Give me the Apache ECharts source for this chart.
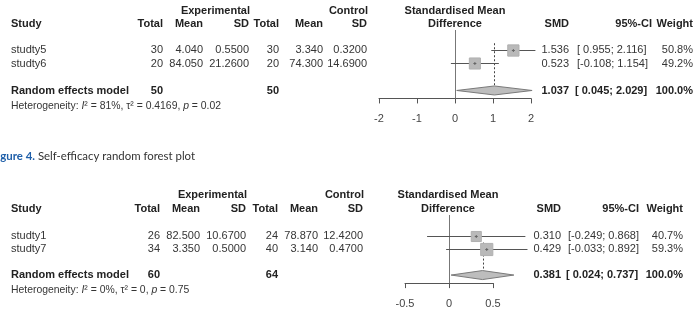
<!DOCTYPE html>
<html><head><meta charset="utf-8">
<script src="https://cdn.jsdelivr.net/npm/echarts@6/dist/echarts.min.js"></script>
<style>html,body{margin:0;padding:0;background:#fff;overflow:hidden}#c{width:695px;height:317px}</style>
</head><body><div id="c"></div>
<script>
// ---------- Data: top forest plot ----------
const studies1 = ['studty5', 'studty6'];
const expTotal1 = [30, 20];
const expMean1 = [4.040, 84.050];
const expSD1 = [0.5500, 21.2600];
const ctrlTotal1 = [30, 20];
const ctrlMean1 = [3.340, 74.300];
const ctrlSD1 = [0.3200, 14.6900];
const smd1 = [1.536, 0.523];
const ciLow1 = [0.955, -0.108];
const ciHigh1 = [2.116, 1.154];
const weight1 = [50.8, 49.2];
const pooled1 = [1.037, 0.045, 2.029];      // SMD, lower, upper
const pooledTotals1 = [50, 50];
const het1 = ['81%', '0.4169', '0.02'];     // I^2, tau^2, p
const ticks1 = [-2, -1, 0, 1, 2];

// ---------- Data: bottom forest plot ----------
const studies2 = ['studty1', 'studty7'];
const expTotal2 = [26, 34];
const expMean2 = [82.500, 3.350];
const expSD2 = [10.6700, 0.5000];
const ctrlTotal2 = [24, 40];
const ctrlMean2 = [78.870, 3.140];
const ctrlSD2 = [12.4200, 0.4700];
const smd2 = [0.310, 0.429];
const ciLow2 = [-0.249, -0.033];
const ciHigh2 = [0.868, 0.892];
const weight2 = [40.7, 59.3];
const pooled2 = [0.381, 0.024, 0.737];
const pooledTotals2 = [60, 64];
const het2 = ['0%', '0', '0.75'];
const ticks2 = [-0.5, 0, 0.5];

const captionLabel = 'Figure 4.';
const captionText = 'Self-efficacy random forest plot';
const headers = ['Study', 'Experimental', 'Control', 'Total', 'Mean', 'SD', 'Standardised Mean', 'Difference', 'SMD', '95%-CI', 'Weight'];
const summaryLabel = 'Random effects model';

// ---------- Layout ----------
const FONT = '"Liberation Sans", Arial, sans-serif';
const L1 = { gridLeft: 379, gridWidth: 152, gridTop: 30, rowH: 13.5, yMin: -0.48, yMax: 4.59, head1: 11, head2: 24, dotStart: 0.5,
  c: { study: 11, eTot: 163, eMean: 203, eSD: 249, cTot: 279, cMean: 323, cSD: 367, plotC: 455, smd: 569, ciL: 577, ciR: 652, w: 693 } };
const L2 = { gridLeft: 405, gridWidth: 88, gridTop: 215, rowH: 13, yMin: -0.62, yMax: 4.62, head1: 195, head2: 209, dotStart: 1.5,
  c: { study: 11, eTot: 160, eMean: 200, eSD: 246, cTot: 278, cMean: 318, cSD: 363, plotC: 448, smd: 561, ciL: 568, ciR: 639, w: 683 } };
const SUMMARY_ROW = 4, HET_ROW = 5.15;

function rowY(L, r) { return L.gridTop + (r - L.yMin) * L.rowH; }
function txt(x, y, text, align, bold, size, color) {
  return { type: 'text', x: x, y: y, silent: true,
    style: { text: text, align: align, verticalAlign: 'middle', font: (bold ? 'bold ' : '') + size + 'px ' + FONT, fill: color } };
}
function fmtLo(v) { return (v < 0 ? '' : ' ') + v.toFixed(3); }
function ciStr(lo, hi) { return '[' + fmtLo(lo) + '; ' + hi.toFixed(3) + ']'; }

function tableGraphics(L, st, eT, eM, eS, cT, cM, cS, smd, lo, hi, w, pooled, totals, het) {
  const g = [], c = L.c, reg = '#353535', bd = '#222';
  g.push(txt(c.eSD + 1, L.head1, headers[1], 'right', true, 11, bd));
  g.push(txt(c.cSD + 1, L.head1, headers[2], 'right', true, 11, bd));
  g.push(txt(c.plotC, L.head1, headers[6], 'center', true, 11, bd));
  g.push(txt(c.study, L.head2, headers[0], 'left', true, 11, bd));
  g.push(txt(c.eTot, L.head2, headers[3], 'right', true, 11, bd));
  g.push(txt(c.eMean, L.head2, headers[4], 'right', true, 11, bd));
  g.push(txt(c.eSD, L.head2, headers[5], 'right', true, 11, bd));
  g.push(txt(c.cTot, L.head2, headers[3], 'right', true, 11, bd));
  g.push(txt(c.cMean, L.head2, headers[4], 'right', true, 11, bd));
  g.push(txt(c.cSD, L.head2, headers[5], 'right', true, 11, bd));
  g.push(txt(c.plotC, L.head2, headers[7], 'center', true, 11, bd));
  g.push(txt(c.smd, L.head2, headers[8], 'right', true, 11, bd));
  g.push(txt(c.ciR, L.head2, headers[9], 'right', true, 11, bd));
  g.push(txt(c.w, L.head2, headers[10], 'right', true, 11, bd));
  st.forEach(function (s, i) {
    const y = rowY(L, i + 1);
    g.push(txt(c.study, y, s, 'left', false, 11, reg));
    g.push(txt(c.eTot, y, String(eT[i]), 'right', false, 11, reg));
    g.push(txt(c.eMean, y, eM[i].toFixed(3), 'right', false, 11, reg));
    g.push(txt(c.eSD, y, eS[i].toFixed(4), 'right', false, 11, reg));
    g.push(txt(c.cTot, y, String(cT[i]), 'right', false, 11, reg));
    g.push(txt(c.cMean, y, cM[i].toFixed(3), 'right', false, 11, reg));
    g.push(txt(c.cSD, y, cS[i].toFixed(4), 'right', false, 11, reg));
    g.push(txt(c.smd, y, smd[i].toFixed(3), 'right', false, 11, reg));
    g.push(txt(c.ciL, y, ciStr(lo[i], hi[i]), 'left', false, 11, reg));
    g.push(txt(c.w, y, w[i].toFixed(1) + '%', 'right', false, 11, reg));
  });
  const ys = rowY(L, SUMMARY_ROW);
  g.push(txt(c.study, ys, summaryLabel, 'left', true, 11, bd));
  g.push(txt(c.eTot, ys, String(totals[0]), 'right', true, 11, bd));
  g.push(txt(c.cTot, ys, String(totals[1]), 'right', true, 11, bd));
  g.push(txt(c.smd, ys, pooled[0].toFixed(3), 'right', true, 11, bd));
  g.push(txt(c.ciL - 2, ys, ciStr(pooled[1], pooled[2]), 'left', true, 11, bd));
  const wsum = w.reduce(function (a, b) { return a + b; }, 0);
  g.push(txt(c.w, ys, wsum.toFixed(1) + '%', 'right', true, 11, bd));
  const fn = '10.4px ' + FONT, fi = 'italic 10.4px ' + FONT;
  g.push({ type: 'text', x: c.study, y: rowY(L, HET_ROW), silent: true,
    style: { text: '{n|Heterogeneity: }{i|I}{n|\u00b2 = ' + het[0] + ', \u03c4\u00b2 = ' + het[1] + ', }{i|p}{n| = ' + het[2] + '}',
      align: 'left', verticalAlign: 'middle',
      rich: { n: { font: fn, fill: reg }, i: { font: fi, fill: reg } } } });
  return g;
}

// ---------- Render items ----------
function studyItem(params, api) {
  const est = api.value(0), lo = api.value(1), hi = api.value(2), w = api.value(3), row = api.value(4);
  const pLo = api.coord([lo, row]), pHi = api.coord([hi, row]), pE = api.coord([est, row]);
  const s = 1.58 * Math.sqrt(w);
  const y = Math.round(pE[1]) + 0.5;
  return { type: 'group', children: [
    { type: 'line', shape: { x1: pLo[0], y1: y, x2: pHi[0], y2: y }, style: { stroke: '#555', lineWidth: 1 } },
    { type: 'rect', shape: { x: pE[0] - s / 2, y: y - s / 2, width: s, height: s }, style: { fill: '#b9b9b9', stroke: '#b0b0b0', lineWidth: 1 } },
    { type: 'line', shape: { x1: pE[0] - 1.5, y1: y, x2: pE[0] + 1.5, y2: y }, style: { stroke: '#666', lineWidth: 1 } },
    { type: 'line', shape: { x1: pE[0], y1: y - 1.5, x2: pE[0], y2: y + 1.5 }, style: { stroke: '#666', lineWidth: 1 } }
  ] };
}
function diamondItem(params, api) {
  const est = api.value(0), lo = api.value(1), hi = api.value(2), row = api.value(3);
  const a = api.coord([lo, row]), b = api.coord([est, row]), c = api.coord([hi, row]);
  const h = 4.5;
  return { type: 'polygon', shape: { points: [[a[0], a[1]], [b[0], b[1] - h], [c[0], c[1]], [b[0], b[1] + h]] },
    style: { fill: '#bdbdbd', stroke: '#7a7a7a', lineWidth: 1 } };
}
function vlineItem(dashed) {
  return function (params, api) {
    const x = api.value(0), r0 = api.value(1), r1 = api.value(2), off = api.value(3);
    const p0 = api.coord([x, r0]), p1 = api.coord([x, r1]);
    const xx = Math.round(p0[0]) + 0.5;
    return { type: 'line', shape: { x1: xx, y1: p0[1], x2: xx, y2: p1[1] - off },
      style: { stroke: dashed ? '#444' : '#777', lineWidth: 1, lineDash: dashed ? [2, 2] : null } };
  };
}

function buildSeries(idx, L, smd, lo, hi, w, pooled) {
  const rows = smd.map(function (v, i) { return [v, lo[i], hi[i], w[i], i + 1]; });
  return [
    { type: 'custom', xAxisIndex: idx, yAxisIndex: idx, clip: false, silent: true, z: 1,
      renderItem: vlineItem(false), data: [[0, L.yMin, L.yMax, 0]] },
    { type: 'custom', xAxisIndex: idx, yAxisIndex: idx, clip: false, silent: true, z: 2,
      renderItem: vlineItem(true), data: [[pooled[0], L.dotStart, SUMMARY_ROW, 4.5]] },
    { type: 'custom', xAxisIndex: idx, yAxisIndex: idx, clip: false, silent: true, z: 3,
      renderItem: studyItem, data: rows },
    { type: 'custom', xAxisIndex: idx, yAxisIndex: idx, clip: false, silent: true, z: 3,
      renderItem: diamondItem, data: [[pooled[0], pooled[1], pooled[2], SUMMARY_ROW]] }
  ];
}
function xAxis(idx, ticks) {
  return { type: 'value', gridIndex: idx, min: ticks[0], max: ticks[ticks.length - 1], interval: ticks[1] - ticks[0],
    splitLine: { show: false },
    axisLine: { show: true, onZero: false, lineStyle: { color: '#555', width: 1 } },
    axisTick: { show: true, length: 5, lineStyle: { color: '#555' } },
    axisLabel: { color: '#444', fontSize: 11, fontFamily: FONT, margin: 15.5 } };
}
function yAxis(idx, L) {
  return { type: 'value', gridIndex: idx, inverse: true, min: L.yMin, max: L.yMax, show: false };
}
function grid(L) {
  return { left: L.gridLeft, width: L.gridWidth, top: L.gridTop, height: (L.yMax - L.yMin) * L.rowH, containLabel: false, outerBoundsMode: 'none' };
}

const graphics = []
  .concat(tableGraphics(L1, studies1, expTotal1, expMean1, expSD1, ctrlTotal1, ctrlMean1, ctrlSD1, smd1, ciLow1, ciHigh1, weight1, pooled1, pooledTotals1, het1))
  .concat(tableGraphics(L2, studies2, expTotal2, expMean2, expSD2, ctrlTotal2, ctrlMean2, ctrlSD2, smd2, ciLow2, ciHigh2, weight2, pooled2, pooledTotals2, het2));
graphics.push({ type: 'text', x: -9, y: 156, silent: true,
  style: { text: '{b|' + captionLabel + '}{n| ' + captionText + '}', align: 'left', verticalAlign: 'middle',
    rich: { b: { font: 'bold 11.4px Lato, "Open Sans", sans-serif', fill: '#1f5fa9' }, n: { font: '11.4px Lato, "Open Sans", sans-serif', fill: '#333' } } } });

const chart = echarts.init(document.getElementById('c'), null, { renderer: 'canvas' });
chart.setOption({
  animation: false,
  backgroundColor: '#fff',
  grid: [grid(L1), grid(L2)],
  xAxis: [xAxis(0, ticks1), xAxis(1, ticks2)],
  yAxis: [yAxis(0, L1), yAxis(1, L2)],
  series: buildSeries(0, L1, smd1, ciLow1, ciHigh1, weight1, pooled1)
    .concat(buildSeries(1, L2, smd2, ciLow2, ciHigh2, weight2, pooled2)),
  graphic: graphics
});
</script></body></html>
